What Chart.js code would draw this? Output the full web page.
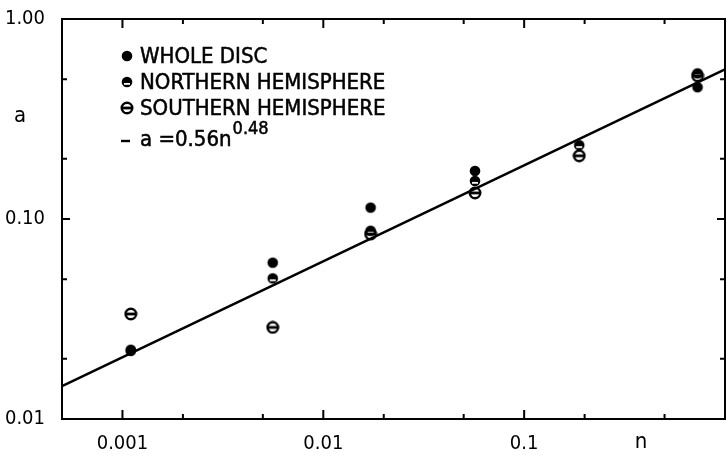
<!DOCTYPE html>
<html>
<head>
<meta charset="utf-8">
<script src="https://cdn.jsdelivr.net/npm/chart.js@4"></script>
<style>
  html, body { margin: 0; padding: 0; background: #fff; overflow: hidden; }
</style>
</head>
<body>
<canvas id="chart" width="726" height="456"></canvas>
<script>
// values (log-log)
const wholeN = [0.0011, 0.0056, 0.0172, 0.0569, 0.73];
const wholeA = [0.0219, 0.0605, 0.114, 0.174, 0.456];
const northN = [0.0011, 0.0056, 0.0172, 0.0569, 0.188, 0.73];
const northA = [0.0222, 0.0505, 0.0874, 0.155, 0.234, 0.535];
const southN = [0.0011, 0.0056, 0.0172, 0.0569, 0.188, 0.73];
const southA = [0.0335, 0.0287, 0.0841, 0.135, 0.207, 0.52];
const fitN = [0.0005, 1];
const fitA = [0.0146, 0.56];

const seriesLabels = ['WHOLE DISC', 'NORTHERN HEMISPHERE', 'SOUTHERN HEMISPHERE'];
const xTickValues = [0.001, 0.01, 0.1];
const xTickLabels = ['0.001', '0.01', '0.1'];
const yTickValues = [0.01, 0.1, 1];
const yTickLabels = ['0.01', '0.10', '1.00'];
const xMinorValues = [0.002, 0.005, 0.02, 0.05, 0.2, 0.5];
const yMinorValues = [0.02, 0.05, 0.2, 0.5];

const FONT = '"DejaVu Sans Condensed", "Liberation Sans Narrow", "Liberation Sans", sans-serif';

function symbol(kind) {
  const c = document.createElement('canvas');
  c.width = 14; c.height = 14;
  const g = c.getContext('2d');
  g.fillStyle = '#000';
  g.strokeStyle = '#000';
  g.beginPath();
  g.arc(7, 7, 5.3, 0, Math.PI * 2);
  if (kind === 'whole') {
    g.fill();
  } else if (kind === 'north') {
    g.fill();
    g.fillStyle = '#fff';
    g.fillRect(4, 8, 6, 1.8);
  } else {
    g.lineWidth = 2.4;
    g.stroke();
    g.fillRect(2, 5.6, 10, 2.8);
  }
  return c;
}
const symWhole = symbol('whole');
const symNorth = symbol('north');
const symSouth = symbol('south');

const toXY = (xs, ys) => xs.map((x, i) => ({ x: x, y: ys[i] }));

const decor = {
  id: 'decor',
  afterDraw(chart) {
    const { ctx, chartArea: a, scales: { x, y } } = chart;
    ctx.save();
    ctx.strokeStyle = '#000';
    ctx.lineWidth = 2;
    ctx.strokeRect(a.left, a.top, a.right - a.left, a.bottom - a.top);

    // inward ticks on all four sides
    const xt = (v, len) => {
      const px = x.getPixelForValue(v);
      ctx.beginPath();
      ctx.moveTo(px, a.bottom); ctx.lineTo(px, a.bottom - len);
      ctx.moveTo(px, a.top); ctx.lineTo(px, a.top + len);
      ctx.stroke();
    };
    const yt = (v, len) => {
      const py = y.getPixelForValue(v);
      ctx.beginPath();
      ctx.moveTo(a.left, py); ctx.lineTo(a.left + len, py);
      ctx.moveTo(a.right, py); ctx.lineTo(a.right - len, py);
      ctx.stroke();
    };
    xTickValues.forEach(v => xt(v, 9));
    xMinorValues.forEach(v => xt(v, 5));
    yTickValues.forEach(v => yt(v, 8));
    yMinorValues.forEach(v => yt(v, 5));

    // axis names
    ctx.fillStyle = '#000';
    ctx.font = '22px ' + FONT;
    ctx.textAlign = 'center';
    ctx.textBaseline = 'middle';
    ctx.fillText('a', 20, 116);
    ctx.fillText('n', 641, 442);

    // legend
    const syms = [symWhole, symNorth, symSouth];
    const rows = [56, 82, 108];
    ctx.textAlign = 'left';
    ctx.font = '22px ' + FONT;
    ctx.lineWidth = 0.5;
    seriesLabels.forEach((t, i) => {
      ctx.drawImage(syms[i], 120, rows[i] - 7);
      ctx.fillText(t, 140, rows[i] + 1);
      ctx.strokeText(t, 140, rows[i] + 1);
    });
    ctx.lineWidth = 2.4;
    ctx.beginPath();
    ctx.moveTo(121, 141); ctx.lineTo(130, 141);
    ctx.stroke();
    ctx.lineWidth = 0.5;
    ctx.fillText('a =0.56n', 140, 140);
    ctx.strokeText('a =0.56n', 140, 140);
    const w = ctx.measureText('a =0.56n').width;
    ctx.font = '18px ' + FONT;
    ctx.fillText('0.48', 140 + w + 1, 129);
    ctx.strokeText('0.48', 140 + w + 1, 129);
    ctx.restore();
  }
};

new Chart(document.getElementById('chart'), {
  type: 'scatter',
  data: {
    datasets: [
      { label: seriesLabels[0], data: toXY(wholeN, wholeA), pointStyle: symWhole, order: 1 },
      { label: seriesLabels[1], data: toXY(northN, northA), pointStyle: symNorth, order: 3 },
      { label: seriesLabels[2], data: toXY(southN, southA), pointStyle: symSouth, order: 2 },
      {
        type: 'line', label: 'fit', data: toXY(fitN, fitA),
        borderColor: '#000', borderWidth: 2.6, pointRadius: 0, fill: false, order: 4
      }
    ]
  },
  options: {
    responsive: false,
    animation: false,
    layout: { autoPadding: false, padding: { top: 19, right: 1, left: 0, bottom: 0 } },
    plugins: { legend: { display: false }, tooltip: { enabled: false } },
    scales: {
      x: {
        type: 'logarithmic', min: 0.0005, max: 1,
        grid: { display: true, drawOnChartArea: false, drawTicks: false },
        border: { display: true, color: '#000', width: 2 },
        afterBuildTicks: s => { s.ticks = xTickValues.map(v => ({ value: v })); },
        afterFit: s => { s.height = 37; s.paddingLeft = 0; s.paddingRight = 0; },
        ticks: {
          color: '#000', padding: 13, maxRotation: 0, autoSkip: false,
          font: { family: FONT, size: 20 },
          callback: v => xTickLabels[xTickValues.indexOf(v)] ?? ''
        }
      },
      y: {
        type: 'logarithmic', min: 0.01, max: 1,
        grid: { display: true, drawOnChartArea: false, drawTicks: false },
        border: { display: true, color: '#000', width: 2 },
        afterBuildTicks: s => { s.ticks = yTickValues.map(v => ({ value: v })); },
        afterFit: s => { s.width = 62; s.paddingTop = 0; s.paddingBottom = 0; },
        ticks: {
          color: '#000', padding: 17, autoSkip: false,
          font: { family: FONT, size: 20 },
          callback: v => yTickLabels[yTickValues.indexOf(v)] ?? ''
        }
      }
    }
  },
  plugins: [decor]
});
</script>
</body>
</html>
